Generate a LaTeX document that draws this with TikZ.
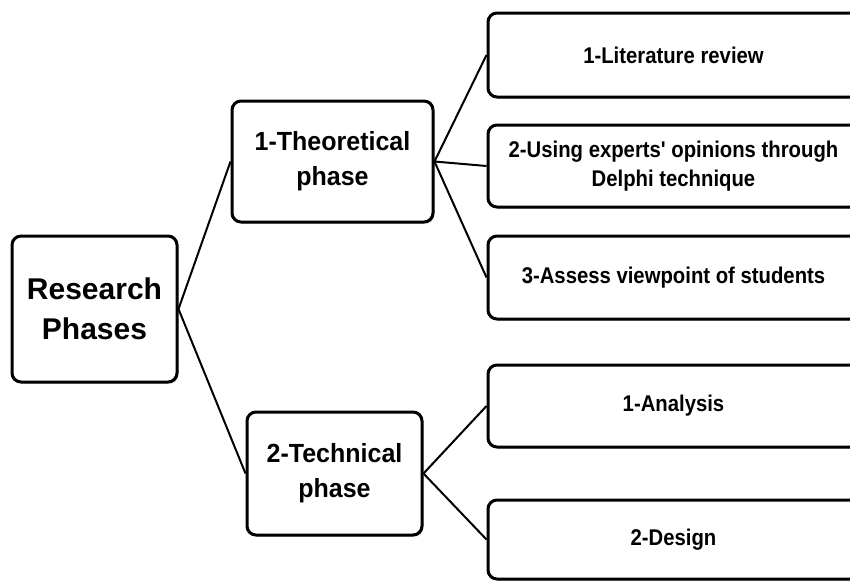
\documentclass[tikz,border=0pt]{standalone}
\usepackage{graphicx}
\usepackage{fontspec}
\setmainfont{Liberation Sans}
\usetikzlibrary{shadows}
\newcommand{\leaftxt}[1]{\scalebox{1}[1.12]{#1}}
\newcommand{\phasetxt}[1]{\scalebox{1}[1.05]{#1}}
\begin{document}
\begin{tikzpicture}[x=1pt,y=-1pt,
  box/.style={draw=black, line width=3pt, rounded corners=9pt, fill=white,
    drop shadow={shadow xshift=1.5pt, shadow yshift=-1.8pt, opacity=0.3},
    align=center, inner sep=0pt, font=\bfseries},
  rootbox/.style={box, font=\fontsize{30}{40}\selectfont\bfseries},
  phasebox/.style={box, font=\fontsize{25}{35}\selectfont\bfseries},
  leafbox/.style={box, font=\fontsize{20.3}{29}\selectfont\bfseries},
  link/.style={draw=black, line width=2pt}]
\clip (0,0) rectangle (850,581);
\fill[white] (0,0) rectangle (850,581);
\node[rootbox, minimum width=165pt, minimum height=146pt] (rp) at (94.5,309) {Research\\Phases};
\node[phasebox, minimum width=201pt, minimum height=121pt] (th) at (332.5,161.5) {\phasetxt{1-Theoretical}\\\phasetxt{phase}};
\node[phasebox, minimum width=175pt, minimum height=123pt] (te) at (334.5,473.5) {\phasetxt{2-Technical}\\\phasetxt{phase}};
\node[leafbox, minimum width=371pt, minimum height=84pt] (lit) at (673.5,55) {\leaftxt{1-Literature review}};
\node[leafbox, minimum width=371pt, minimum height=82pt] (exp) at (673.5,166) {\leaftxt{2-Using experts\textquotesingle\ opinions through}\\\leaftxt{Delphi technique}};
\node[leafbox, minimum width=371pt, minimum height=83pt] (ass) at (673.5,277.5) {\leaftxt{3-Assess viewpoint of students}};
\node[leafbox, minimum width=371pt, minimum height=82pt] (ana) at (673.5,406) {\leaftxt{1-Analysis}};
\node[leafbox, minimum width=371pt, minimum height=79pt] (des) at (673.5,539.5) {\leaftxt{2-Design}};
\draw[link] (rp.east) -- (th.west);
\draw[link] (rp.east) -- (te.west);
\draw[link] (th.east) -- (lit.west);
\draw[link] (th.east) -- (exp.west);
\draw[link] (th.east) -- (ass.west);
\draw[link] (te.east) -- (ana.west);
\draw[link] (te.east) -- (des.west);
\end{tikzpicture}
\end{document}
